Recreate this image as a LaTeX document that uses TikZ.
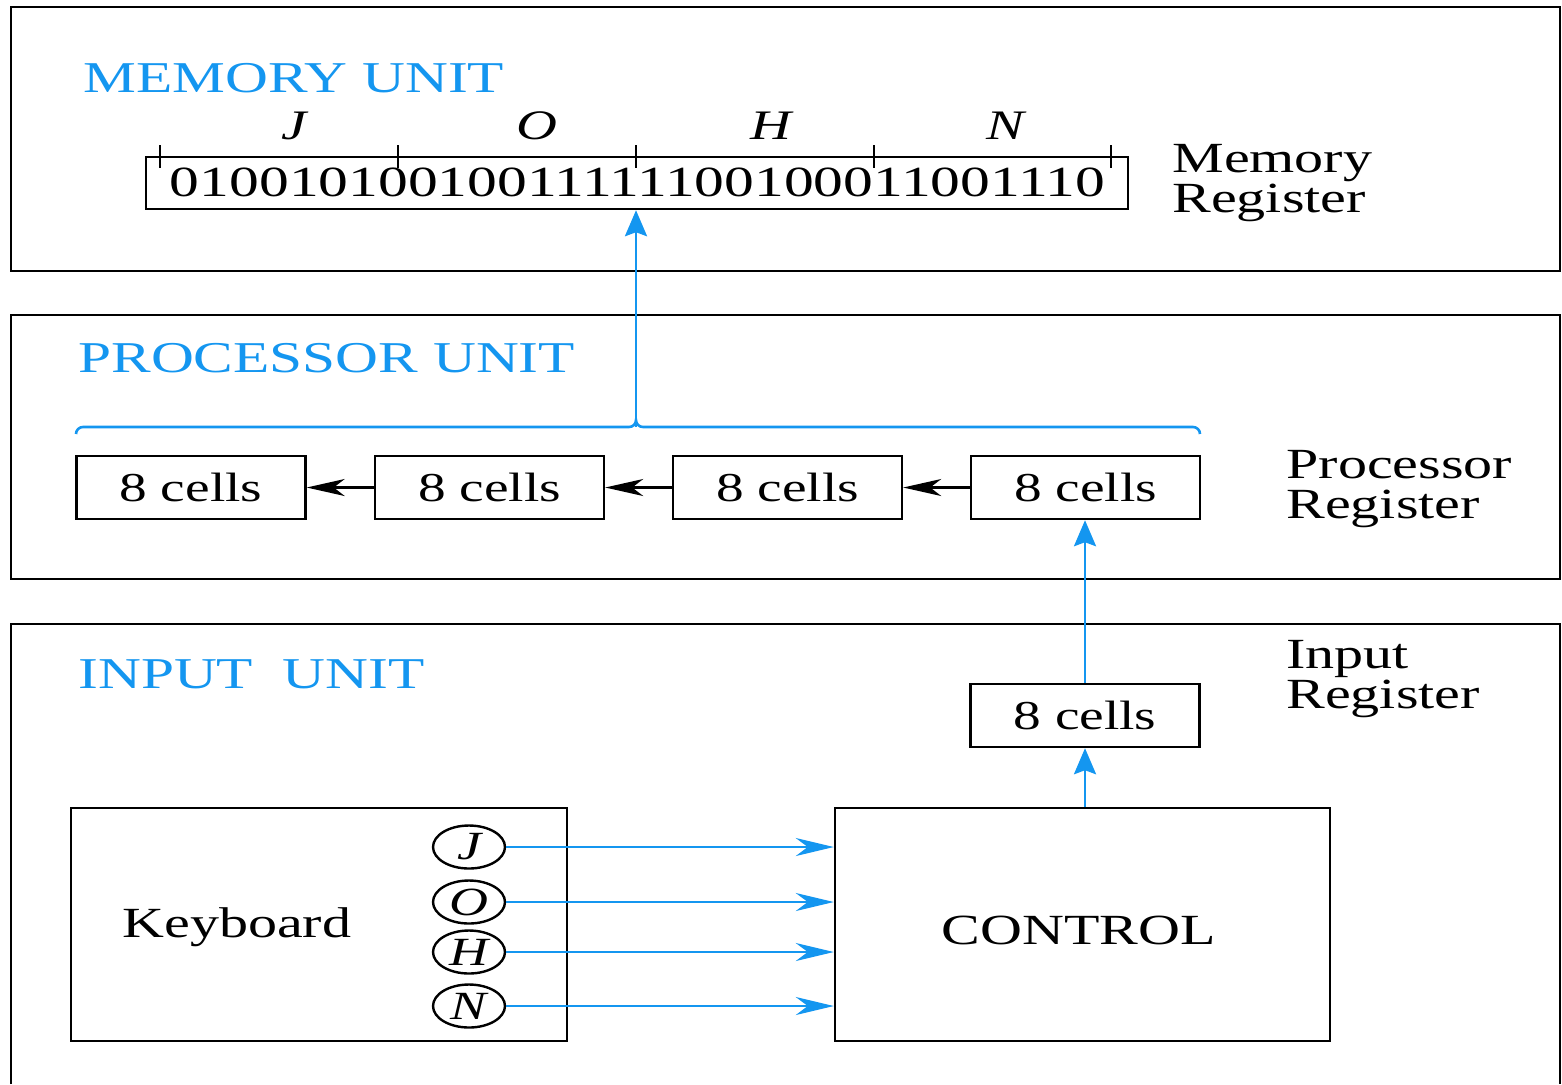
\documentclass[tikz,border=0pt]{standalone}
\usepackage{fontspec}
\setmainfont[FakeStretch=1.35]{Liberation Serif}
\newfontfamily\binfont[FakeStretch=1.385]{Liberation Serif}
\usetikzlibrary{arrows.meta,shapes.geometric}
\definecolor{ublue}{RGB}{20,150,240}
\begin{document}
\begin{tikzpicture}[x=0.5pt,y=-0.5pt,
  unitbox/.style={line width=1.1pt},
  regbox/.style={draw,line width=1.2pt,inner sep=0pt},
  cellbox/.style={regbox,minimum width=114.5pt,minimum height=31.5pt,font=\fontsize{20.5}{24}\selectfont},
  title/.style={text=ublue,font=\fontsize{22}{24}\selectfont,anchor=base west,inner sep=0pt},
  lbl/.style={font=\fontsize{21.5}{20}\selectfont,align=left,anchor=base west,inner sep=0pt},
  letter/.style={font=\itshape\fontsize{21}{24}\selectfont,anchor=base,inner sep=0pt},
  key/.style={draw,ellipse,line width=1.2pt,minimum width=36pt,minimum height=21.5pt,inner sep=0pt,font=\itshape\fontsize{20}{22}\selectfont},
  varrow/.style={draw=ublue,line width=1.4pt,-{Stealth[length=13pt,width=11pt,inset=2pt]}},
  harrow/.style={draw=ublue,line width=1.3pt,-{Stealth[length=19pt,width=9pt,inset=6pt]}},
  karrow/.style={draw=black,line width=1.2pt,-{Stealth[length=19pt,width=8.5pt,inset=5.5pt]}},
]
\useasboundingbox (0,0) rectangle (1562,1084);

% unit frames
\draw[unitbox] (11,7) rectangle (1560,271);
\draw[unitbox] (11,315) rectangle (1560,579);
\draw[unitbox] (11,1084) -- (11,624) -- (1560,624) -- (1560,1084);

% titles
\node[title] (tmem) at (83,92) {MEMORY UNIT};
\node[title] (tproc) at (78,372) {PROCESSOR UNIT};
\node[title] (tin) at (78,688) {INPUT\ \ UNIT};

% memory register
\node[regbox,minimum width=491pt,minimum height=26pt] (memreg) at (637,183) {};
\node[font=\binfont\fontsize{21.5}{24}\selectfont,anchor=base,inner sep=0pt] (bits) at (637.5,196) {01001010010011111100100011001110};
\foreach \x in {160,398,636,874,1111} \draw[line width=1.1pt] (\x,145) -- (\x,168);
\node[letter] (lJ) at (294,139) {J};
\node[letter] (lO) at (537,139) {O};
\node[letter] (lH) at (771,139) {H};
\node[letter] (lN) at (1005,139) {N};
\node[lbl] (memlbl) at (1172,212) {Memory\\Register};

% processor register
\node[cellbox] (p1) at (191,487.5) {8 cells};
\node[cellbox] (p2) at (489.5,487.5) {8 cells};
\node[cellbox] (p3) at (787.5,487.5) {8 cells};
\node[cellbox] (p4) at (1085.5,487.5) {8 cells};
\draw[karrow] (p2.west) -- (p1.east);
\draw[karrow] (p3.west) -- (p2.east);
\draw[karrow] (p4.west) -- (p3.east);
\node[lbl] (proclbl) at (1286,518) {Processor\\Register};

% brace
\coordinate (bt) at (636,427);
\draw[ublue,line width=1.3pt] (76,434) to[out=90,in=180] (83,427) -- (629,427) to[out=0,in=-90] (636,420)
  to[out=-90,in=180] (643,427) -- (1193,427) to[out=0,in=90] (1200,434);
\draw[varrow] (bt) -- (bt |- memreg.south);

% input unit
\node[cellbox] (inreg) at (1085,715.5) {8 cells};
\node[lbl] (inlbl) at (1286,708) {Input\\Register};
\draw[varrow] (inreg.north) -- (inreg.north |- p4.south);

\node[regbox,minimum width=248pt,minimum height=116.5pt] (kbd) at (319,924.5) {};
\node[lbl] (kbdtxt) at (122,937) {Keyboard};
\node[regbox,minimum width=247.5pt,minimum height=116.5pt] (ctrl) at (1082.5,924.5) {};
\node[font=\fontsize{21.5}{24}\selectfont,inner sep=0pt] (ctrltxt) at (1079,930) {CONTROL};
\draw[varrow] (inreg.south |- ctrl.north) -- (inreg.south);

\node[key] (kJ) at (469,847) {J};
\node[key] (kO) at (469,902) {O};
\node[key] (kH) at (469,952) {H};
\node[key] (kN) at (469,1006) {N};
\foreach \k in {kJ,kO,kH,kN} \draw[harrow] (\k.east) -- (\k.east -| ctrl.west);
\end{tikzpicture}
\end{document}
